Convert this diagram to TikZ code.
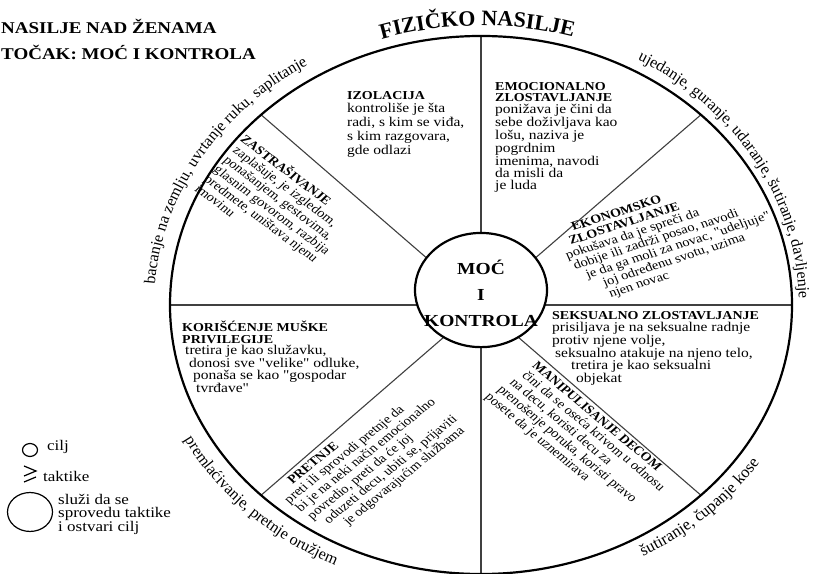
\documentclass[tikz,border=0pt]{standalone}
\usepackage{fontspec}
\setmainfont{Liberation Serif}[Ligatures=TeXOff]
\usetikzlibrary{decorations.text}
\newcommand\hd[1]{{\fontsize{14}{14}\selectfont\bfseries #1}}
\newcommand\ind[1]{\hspace*{#1pt}}
\begin{document}
\begin{tikzpicture}[x=1pt,y=1pt,
  blk/.style={inner sep=0pt, align=left, anchor=north west},
  spoke/.style={line width=1.1pt, black!75},
  rim/.style={line width=2.2pt, black},
  arctext/.style={decorate, decoration={text along path, text align=center, text={#1}}}]
\useasboundingbox (0,0) rectangle (816,-573);
\fill[white] (0,0) rectangle (816,-573);
\begin{scope}[yscale=0.865, transform shape]
\coordinate (C) at (481,-352.6);
% spokes and rim
\foreach \a in {0,45,...,315} \draw[spoke] (C) -- ++(\a:311);
\draw[rim] (C) circle[radius=311];
% hub
\node[circle, draw, line width=2.2pt, fill=white, minimum size=132pt, inner sep=0pt] (hub) at (481,-335.3) {};
\node[font=\fontsize{19.5}{30}\selectfont\bfseries, align=center, inner sep=0pt] (hubtext) at (481,-339.5) {MOĆ\\I\\KONTROLA};
% title
\node[anchor=base west, inner sep=0pt, font=\fontsize{19}{19}\selectfont\bfseries] (title1) at (1,-33/0.865) {NASILJE NAD ŽENAMA};
\node[anchor=base west, inner sep=0pt, font=\fontsize{19}{19}\selectfont\bfseries] (title2) at (1,-59/0.865) {TOČAK: MOĆ I KONTROLA};
% sectors
\node[blk, font=\fontsize{15.5}{15.9}\selectfont] (izol) at (347,-91/0.865)
  {\hd{IZOLACIJA}\\kontroliše je šta\\radi, s kim se viđa,\\s kim razgovara,\\gde odlazi};
\node[blk, font=\fontsize{15.5}{13.6}\selectfont] (emoc) at (495,-82/0.865)
  {\hd{EMOCIONALNO}\\\hd{ZLOSTAVLJANJE}\\ponižava je čini da\\sebe doživljava kao\\lošu, naziva je\\pogrdnim\\imenima, navodi\\da misli da\\je luda};
\node[blk, rotate=20.6, font=\fontsize{14.5}{14.2}\selectfont] (ekon) at (554,-228.5/0.865)
  {\ind{17}\hd{EKONOMSKO}\\\ind{9}\hd{ZLOSTAVLJANJE}\\pokušava da je spreči da\\\ind{3}dobije ili zadrži posao, navodi\\\ind{11}je da ga moli za novac, "udeljuje"\\\ind{24}joj određenu svotu, uzima\\\ind{25}njen novac};
\node[blk, font=\fontsize{15.5}{14.6}\selectfont] (seks) at (552,-311/0.865)
  {\hd{SEKSUALNO ZLOSTAVLJANJE}\\prisiljava je na seksualne radnje\\protiv njene volje,\\\ind{3}seksualno atakuje na njeno telo,\\\ind{19}tretira je kao seksualni\\\ind{24}objekat};
\node[blk, rotate=-44, font=\fontsize{14.5}{14.6}\selectfont] (manip) at (531.5,-355.5/0.865)
  {\ind{9}\hd{MANIPULISANJE DECOM}\\\ind{9}čini da se oseća krivom u odnosu\\\ind{6}na decu, koristi decu za\\\ind{3}prenošenje poruka, koristi pravo\\posete da je uznemirava};
\node[blk, rotate=43, font=\fontsize{14.5}{14.6}\selectfont] (pretnje) at (273,-489/0.865)
  {\ind{18}\hd{PRETNJE}\\preti ili sprovodi pretnje da\\\ind{2}bi je na neki način emocionalno\\\ind{4}povredio, preti da će joj\\\ind{13}oduzeti decu, ubiti se, prijaviti\\\ind{26}je odgovarajućim službama};
\node[blk, font=\fontsize{15.5}{13.4}\selectfont] (koris) at (182,-321/0.865)
  {\hd{KORIŠĆENJE MUŠKE}\\\hd{PRIVILEGIJE}\\\ind{3}tretira je kao služavku,\\\ind{7}donosi sve "velike" odluke,\\\ind{11}ponaša se kao "gospodar\\\ind{14}tvrđave"};
\node[blk, rotate=-41, font=\fontsize{14.5}{14.6}\selectfont] (zastr) at (247.5,-132.5/0.865)
  {\hd{ZASTRAŠIVANJE}\\\ind{3}zaplašuje, je izgledom,\\\ind{3}ponašanjem, gestovima,\\\ind{3}glasnim govorom, razbija\\\ind{3}predmete, uništava njenu\\\ind{3}imovinu};
% outer texts
\path[arctext={|\fontsize{22}{22}\selectfont\bfseries|FIZIČKO NASILJE}]
  (C) ++(125.7:323) arc[start angle=125.7, end angle=55.7, radius=323];
\path[arctext={|\fontsize{16}{16}\selectfont|ujedanje, guranje, udaranje, šutiranje, davljenje}]
  (C) ++(77:318 and 326) arc[start angle=77, end angle=-17, x radius=318, y radius=326];
\path[arctext={|\fontsize{16}{16}\selectfont|bacanje na zemlju, uvrtanje ruku, saplitanje}]
  (C) ++(195:327) arc[start angle=195, end angle=105, radius=327];
\path[arctext={|\fontsize{16}{16}\selectfont|premlaćivanje, pretnje oružjem}]
  (C) ++(190:335) arc[start angle=190, end angle=260, radius=335];
\path[arctext={|\fontsize{16.5}{16.5}\selectfont|šutiranje, čupanje kose}]
  (C) ++(280:333) arc[start angle=280, end angle=348, radius=333];
% legend
\draw[line width=1.2pt] (30,-450/0.865) circle[radius=7.5];
\node[anchor=west, inner sep=0pt, font=\fontsize{17}{17}\selectfont] (cilj) at (47,-447/0.865) {cilj};
\draw[line width=1.2pt] (24,-466/0.865) -- (36,-471/0.865) -- (24,-476/0.865);
\draw[line width=1.2pt] (24,-482/0.865) -- (36,-477/0.865);
\node[anchor=west, inner sep=0pt, font=\fontsize{17}{17}\selectfont] (takt) at (43,-476/0.865) {taktike};
\draw[line width=1.2pt] (30,-512/0.865) circle[radius=22.5];
\node[blk, font=\fontsize{17}{15}\selectfont] (sluzi) at (58,-494/0.865) {služi da se\\sprovedu taktike\\i ostvari cilj};
\end{scope}
\end{tikzpicture}
\end{document}
